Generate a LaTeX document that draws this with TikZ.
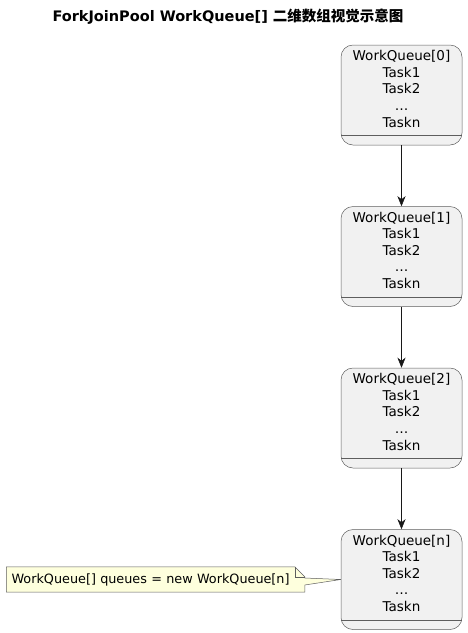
\documentclass[tikz,border=0pt]{standalone}
\usepackage{fontspec}
\setmainfont{DejaVu Sans}
\newfontfamily\cjk{Noto Sans CJK SC}
\usetikzlibrary{arrows.meta,positioning,calc,backgrounds}
\definecolor{qfill}{HTML}{F1F1F1}
\definecolor{qline}{HTML}{181818}
\definecolor{qborder}{HTML}{5E5E5E}
\definecolor{notefill}{HTML}{FEFFDD}
\newcommand{\queuetext}[1]{\begin{tabular}{@{}c@{}}WorkQueue[#1]\\Task1\\Task2\\\dots\\Taskn\\[9pt]\end{tabular}}

\begin{document}
\begin{tikzpicture}[x=1pt, y=-1pt, node distance=61pt, >={Stealth[length=10pt,width=8pt,inset=3pt]},
  queue/.style={draw=qborder, fill=qfill, line width=0.5pt, rounded corners=12pt,
    minimum width=121pt, minimum height=100pt, inner sep=0pt,
    font=\fontsize{13.5}{16.6}\selectfont},
  notetext/.style={inner xsep=5pt, minimum height=25pt, text width=288pt, align=left,
    font=\fontsize{12.8}{15}\selectfont}]
\useasboundingbox (0,0) rectangle (468,633);
\node (title) at (228,17) {\fontsize{14.5}{17}\selectfont\bfseries ForkJoinPool WorkQueue[] {\cjk 二维数组视觉示意图}};
\node (q0) [queue] at (401.5,95) {\queuetext{0}};
\node (q1) [queue, below=of q0] {\queuetext{1}};
\node (q2) [queue, below=of q1] {\queuetext{2}};
\node (qn) [queue, below=of q2] {\queuetext{n}};
\foreach \q in {q0,q1,q2,qn}
  \draw[qborder, line width=0.5pt] ($(\q.south west)+(0,10pt)$) -- ($(\q.south east)+(0,10pt)$);
\draw[->, qline, line width=0.6pt] (q0) -- (q1);
\draw[->, qline, line width=0.6pt] (q1) -- (q2);
\draw[->, qline, line width=0.6pt] (q2) -- (qn);
% note on the last queue
\node (note) [notetext, left=36pt of qn.west] {WorkQueue[] queues = new WorkQueue[n]};
\begin{scope}[on background layer]
\draw[qborder, fill=notefill, line width=0.5pt] (note.north west) -- ($(note.north east)+(-10pt,0)$)
  -- ($(note.north east)+(0,-10pt)$) -- ($(note.east)+(0,1.5pt)$) -- (qn.west)
  -- ($(note.east)+(0,-5.5pt)$) -- (note.south east) -- (note.south west) -- cycle;
\draw[qborder, line width=0.5pt] ($(note.north east)+(-10pt,0)$) -- ($(note.north east)+(-10pt,-10pt)$)
  -- ($(note.north east)+(0,-10pt)$);
\end{scope}
\end{tikzpicture}
\end{document}
